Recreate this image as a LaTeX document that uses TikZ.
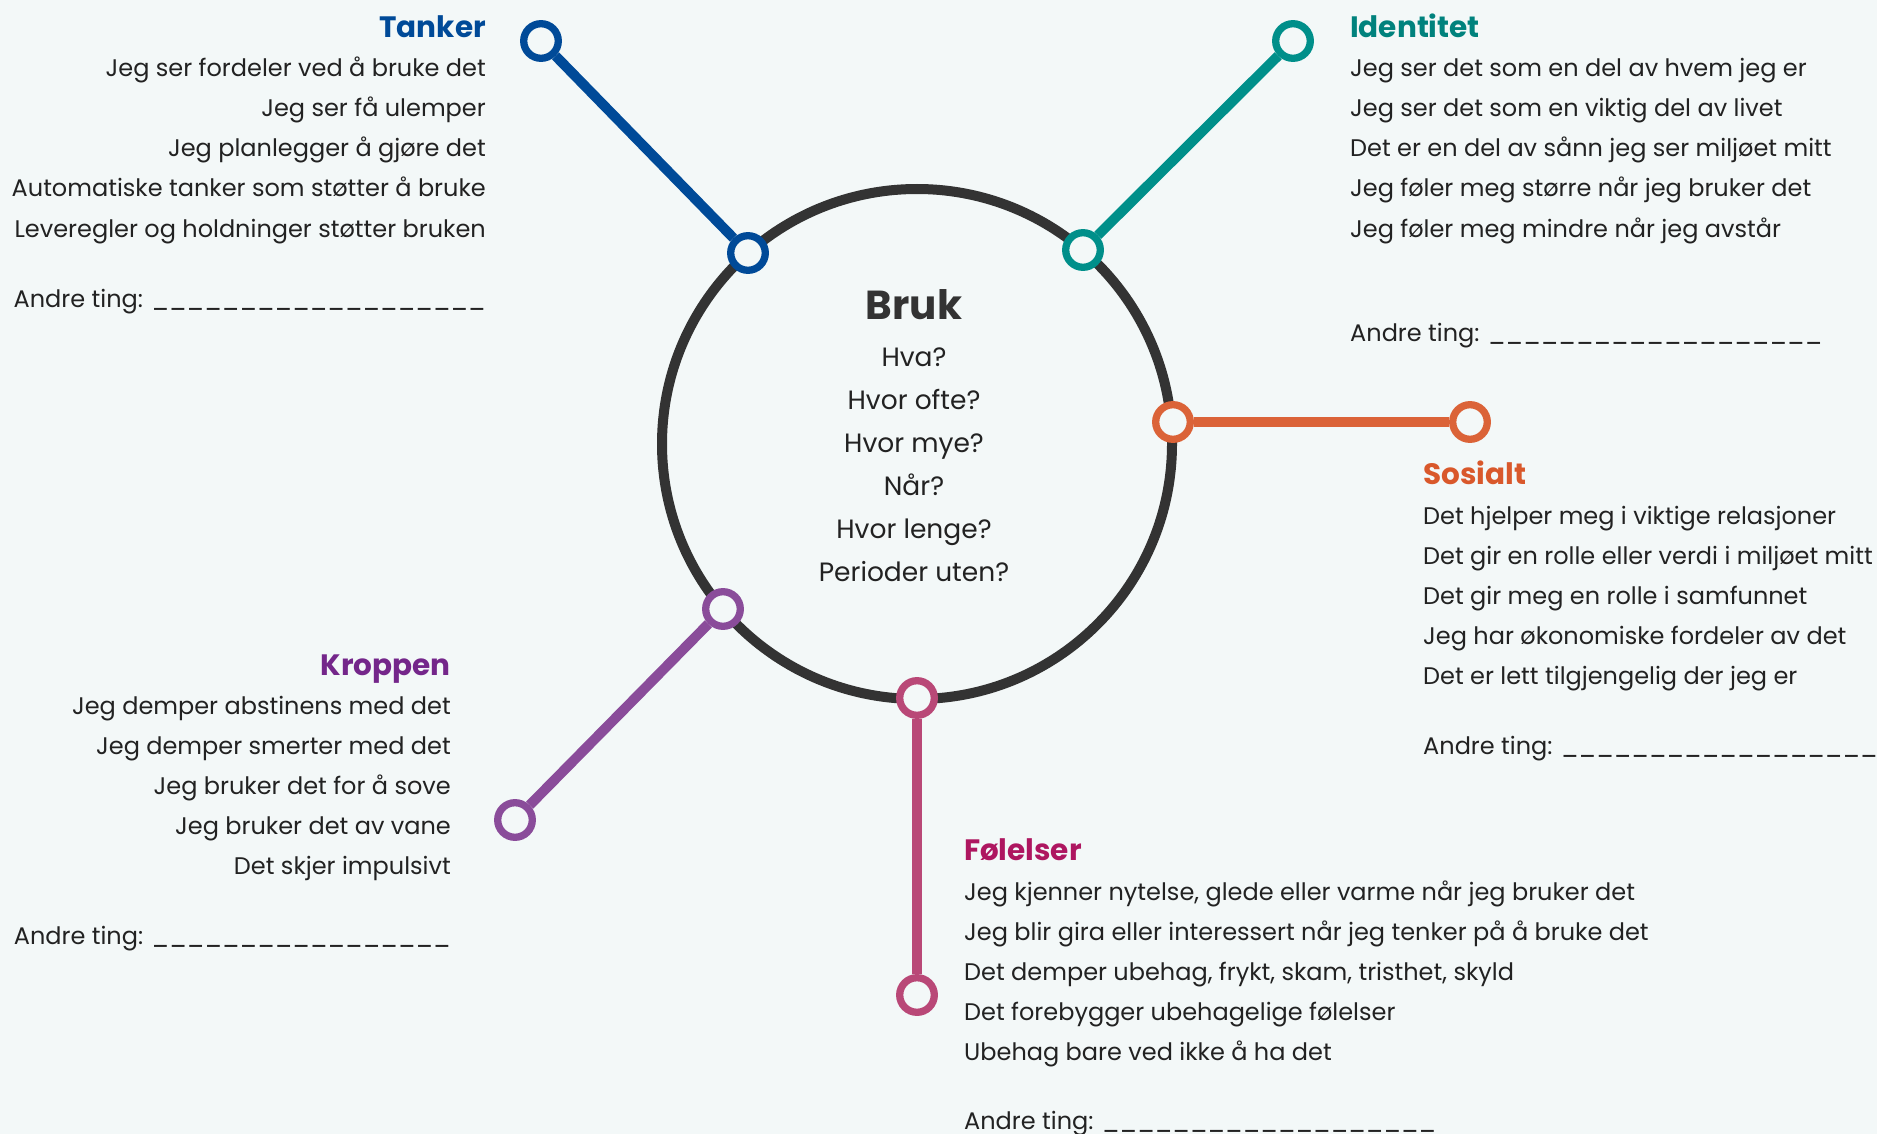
\documentclass[tikz,border=0pt]{standalone}
\usepackage{fontspec}
\setmainfont{Poppins}
\usetikzlibrary{positioning}
\definecolor{bgc}{HTML}{F3F8F8}
\definecolor{hubc}{HTML}{333333}
\definecolor{txtc}{HTML}{222222}
\definecolor{tankc}{HTML}{004A98}
\definecolor{identc}{HTML}{008F8A}
\definecolor{identtc}{HTML}{00827D}
\definecolor{sosc}{HTML}{DB6338}
\definecolor{sostc}{HTML}{D9582B}
\definecolor{kropc}{HTML}{8A4C9A}
\definecolor{kroptc}{HTML}{74268A}
\definecolor{folc}{HTML}{B94877}
\definecolor{foltc}{HTML}{AE1660}
\tikzset{
  ring/.style={circle, draw=#1, fill=bgc, line width=7.3pt, minimum size=34.6pt, inner sep=0pt},
  arm/.style={draw=#1, line width=10pt},
  headtxt/.style={font=\fontsize{29.5}{34}\selectfont\bfseries, text=#1, inner sep=0pt},
  itemtxt/.style={font=\fontsize{24}{28}\selectfont, text=txtc, inner sep=0pt},
  asktxt/.style={font=\fontsize{26.5}{30}\selectfont, text=txtc, inner sep=0pt, anchor=base},
}
\newcommand{\blanks}{\_\_\_\_\_\_\_\_\_\_\_\_\_\_\_\_\_\_\_}
\begin{document}
\begin{tikzpicture}[x=1pt,y=-1pt]
\fill[bgc] (0,0) rectangle (1877,1134);
\useasboundingbox (0,0) rectangle (1877,1134);

% the hub
\node[circle, draw=hubc, line width=10pt, minimum size=510pt, inner sep=0pt] (hub) at (917,444) {};
\node[font=\fontsize{40.5}{46}\selectfont\bfseries, text=hubc, anchor=base] (bruk) at (914,319) {Bruk};
\foreach \q [count=\i from 0] in {Hva?, Hvor ofte?, Hvor mye?, Når?, Hvor lenge?, Perioder uten?}
  \node[asktxt] (ask-\i) at (914, 366+43*\i) {\q};

% rings on the hub and at the arm ends
\node[ring=tankc] (tankin) at (748,253) {};
\node[ring=tankc] (tankout) at (541,41) {};
\node[ring=identc] (identin) at (1083,250) {};
\node[ring=identc] (identout) at (1293,41) {};
\node[ring=sosc] (sosin) at (1173,422) {};
\node[ring=sosc] (sosout) at (1470,422) {};
\node[ring=kropc] (kropin) at (723,609) {};
\node[ring=kropc] (kropout) at (515,820) {};
\node[ring=folc] (folin) at (917,698) {};
\node[ring=folc] (folout) at (917,995) {};

% arms
\draw[arm=tankc] (tankin) -- (tankout);
\draw[arm=identc] (identin) -- (identout);
\draw[arm=sosc] (sosin) -- (sosout);
\draw[arm=kropc] (kropin) -- (kropout);
\draw[arm=folc] (folin) -- (folout);

% Tanker
\node[headtxt=tankc, anchor=base east] (tank) at (486,38) {Tanker};
\foreach \t [count=\i from 0] in {Jeg ser fordeler ved å bruke det, Jeg ser få ulemper, Jeg planlegger å gjøre det, Automatiske tanker som støtter å bruke, Leveregler og holdninger støtter bruken}
  \node[itemtxt, anchor=base east] (tank-\i) at (486, 77+40*\i) {\t};
\node[itemtxt, anchor=base east] (tankrest) at (486,307) {Andre ting: \blanks};

% Identitet
\node[headtxt=identtc, anchor=base west] (ident) at (1350,38) {Identitet};
\foreach \t [count=\i from 0] in {Jeg ser det som en del av hvem jeg er, Jeg ser det som en viktig del av livet, Det er en del av sånn jeg ser miljøet mitt, Jeg føler meg større når jeg bruker det, Jeg føler meg mindre når jeg avstår}
  \node[itemtxt, anchor=base west] (ident-\i) at (1350, 77+40*\i) {\t};
\node[itemtxt, anchor=base west] (identrest) at (1350,341) {Andre ting: \blanks};

% Sosialt
\node[headtxt=sostc, anchor=base west] (sos) at (1423,484) {Sosialt};
\foreach \t [count=\i from 0] in {Det hjelper meg i viktige relasjoner, Det gir en rolle eller verdi i miljøet mitt, Det gir meg en rolle i samfunnet, Jeg har økonomiske fordeler av det, Det er lett tilgjengelig der jeg er}
  \node[itemtxt, anchor=base west] (sos-\i) at (1423, 524+40*\i) {\t};
\node[itemtxt, anchor=base west] (sosrest) at (1423,754) {Andre ting: \blanks};

% Kroppen
\node[headtxt=kroptc, anchor=base east] (krop) at (451,675) {Kroppen};
\foreach \t [count=\i from 0] in {Jeg demper abstinens med det, Jeg demper smerter med det, Jeg bruker det for å sove, Jeg bruker det av vane, Det skjer impulsivt}
  \node[itemtxt, anchor=base east] (krop-\i) at (451, 714+40*\i) {\t};
\node[itemtxt, anchor=base east] (kroprest) at (451,944) {Andre ting: \_\_\_\_\_\_\_\_\_\_\_\_\_\_\_\_\_};

% Følelser
\node[headtxt=foltc, anchor=base west] (fol) at (964,860) {Følelser};
\foreach \t [count=\i from 0] in {Jeg kjenner nytelse{,} glede eller varme når jeg bruker det, Jeg blir gira eller interessert når jeg tenker på å bruke det, {Det demper ubehag, frykt, skam, tristhet, skyld}, Det forebygger ubehagelige følelser, Ubehag bare ved ikke å ha det}
  \node[itemtxt, anchor=base west] (fol-\i) at (964, 900+40*\i) {\t};
\node[itemtxt, anchor=base west] (folrest) at (964,1129) {Andre ting: \blanks};
\end{tikzpicture}
\end{document}
